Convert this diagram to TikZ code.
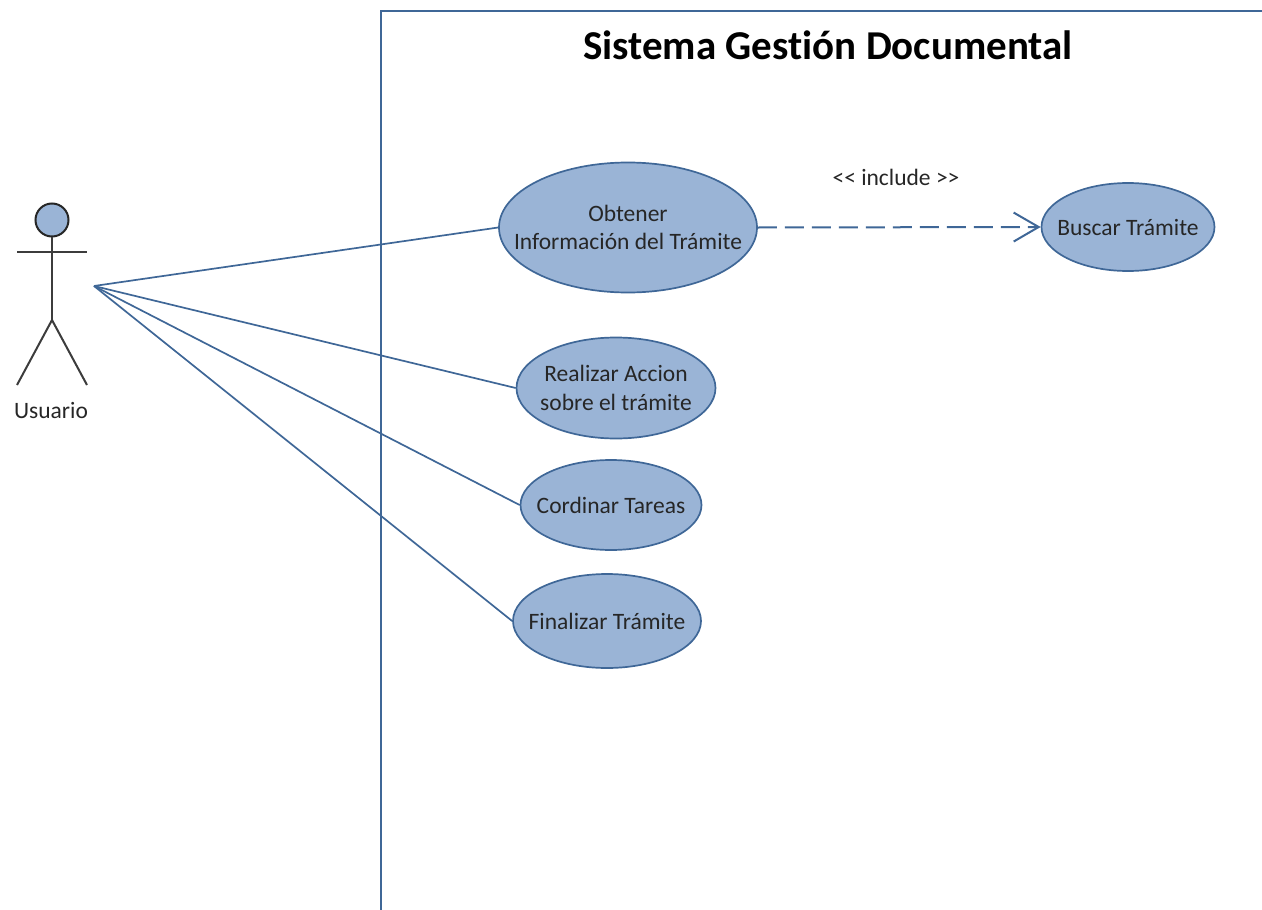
\documentclass[tikz,border=0pt]{standalone}
\usepackage{fontspec}
\setmainfont[Ligatures=NoCommon]{Carlito}
\usepackage{tikz}
\usetikzlibrary{arrows.meta}
\usetikzlibrary{shapes.geometric}
\definecolor{umlblue}{HTML}{9AB4D6}
\definecolor{umlline}{HTML}{3F6797}
\definecolor{umltext}{HTML}{262626}
\tikzset{
every node/.style={inner sep=0pt},
usecase/.style={ellipse, draw=umlline, fill=umlblue, line width=1.7pt, inner xsep=-30pt, inner ysep=-5pt, align=center, text=umltext, font=\fontsize{23.5pt}{28.5pt}\selectfont},
link/.style={draw=umlline, line width=1.7pt},
stick/.style={draw=umltext!90, line width=2pt}
}
\begin{document}
\begin{tikzpicture}[x=1pt,y=-1pt]
\useasboundingbox (0,0) rectangle (1262,910);
\coordinate (frameTop) at (381,11);
\coordinate (frameEnd) at (1262,11);
\coordinate (frameBot) at (381,910);
\draw [link] (frameEnd) -- (frameTop) -- (frameBot);
\node (title) at (828,45) {\fontsize{41pt}{46pt}\selectfont\bfseries Sistema Gestión Documental};

\node [usecase, minimum width=258pt, minimum height=130pt] (OBT) at (628,227.5) {Obtener\\Información del Trámite};
\node [usecase, minimum width=173pt, minimum height=88pt] (BUS) at (1128,227) {Buscar Trámite};
\node [usecase, minimum width=199pt, minimum height=101pt] (REA) at (616,388) {Realizar Accion\\sobre el trámite};
\node [usecase, minimum width=181pt, minimum height=90pt] (COR) at (611,505) {Cordinar Tareas};
\node [usecase, minimum width=188pt, minimum height=94pt] (FIN) at (607,621) {Finalizar Trámite};
\node [text=umltext, font=\fontsize{23.5pt}{28pt}\selectfont] (INC) at (896,177) {<{}< include >{}>};

\node [circle, draw=umltext, fill=umlblue, line width=2pt, minimum size=33pt] (HEAD) at (52,220) {};
\coordinate (NECK) at (52,237);
\coordinate (HIP) at (52,320);
\coordinate (ARML) at (17,252);
\coordinate (ARMR) at (87,252);
\coordinate (LEGL) at (17,385);
\coordinate (LEGR) at (87,385);
\coordinate (ACT) at (94,286);
\node [text=umltext, font=\fontsize{23.5pt}{28pt}\selectfont] (USR) at (51,410) {Usuario};
\draw [stick] (NECK) -- (HIP);
\draw [stick] (ARML) -- (ARMR);
\draw [stick] (LEGL) -- (HIP) -- (LEGR);

\draw [link] (ACT) -- (OBT.west);
\draw [link] (ACT) -- (REA.west);
\draw [link] (ACT) -- (COR.west);
\draw [link] (ACT) -- (FIN.west);
\draw [link, line width=2pt, dash pattern=on 19pt off 8pt, -{Straight Barb[length=25pt,width=29pt]}] (OBT.east) -- (BUS.west);
\end{tikzpicture}
\end{document}
